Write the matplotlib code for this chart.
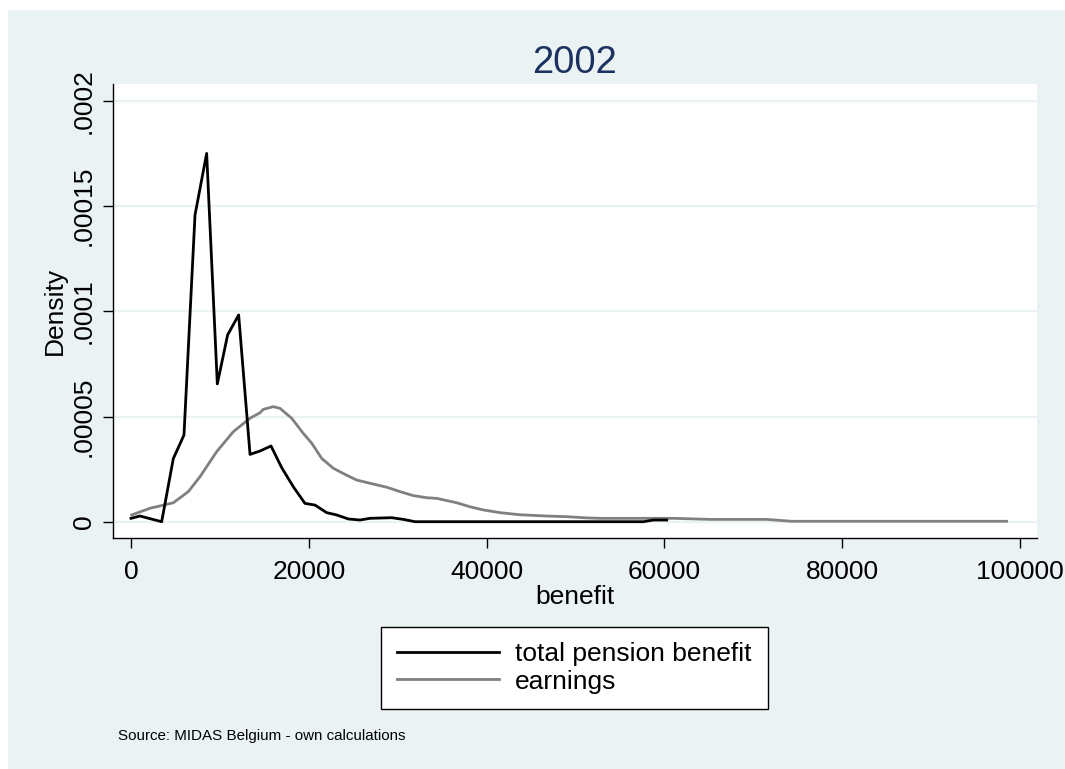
import matplotlib
matplotlib.use("Agg")
import matplotlib.pyplot as plt
from matplotlib.patches import Rectangle

# ---- data ----
pension_x = [0, 1000, 3450, 4760, 5960, 7200, 8510, 9710, 10870, 12110, 13390,
             14510, 15750, 16950, 18260, 19570, 20700, 22010, 23140, 24440,
             25760, 26880, 29330, 30630, 31950, 40000, 50000, 57630, 58750, 60260]
pension_y = [1.6e-6, 2.7e-6, 0.0, 3.0e-5, 4.12e-5, 1.458e-4, 1.751e-4, 6.55e-5,
             8.88e-5, 9.83e-5, 3.2e-5, 3.36e-5, 3.6e-5, 2.57e-5, 1.66e-5, 8.7e-6,
             7.9e-6, 4.3e-6, 3.2e-6, 1.3e-6, 0.8e-6, 1.6e-6, 1.9e-6, 1.1e-6, 0.0,
             0.0, 0.0, 0.0, 0.8e-6, 0.8e-6]

earn_x = [80, 2140, 3260, 4760, 6450, 7760, 9640, 11510, 13390, 14510, 14880,
          16010, 16760, 18070, 19380, 20330, 21450, 22760, 24070, 25390, 27260,
          28760, 30260, 31760, 33260, 34390, 36640, 38130, 39630, 41510, 43760,
          46760, 49010, 51260, 52760, 56500, 61000, 65130, 71500, 74300, 98500]
earn_y = [3.2e-6, 6.4e-6, 7.5e-6, 9.0e-6, 1.43e-5, 2.14e-5, 3.33e-5, 4.28e-5,
          4.92e-5, 5.18e-5, 5.34e-5, 5.47e-5, 5.39e-5, 4.92e-5, 4.2e-5, 3.73e-5,
          3.01e-5, 2.54e-5, 2.25e-5, 1.98e-5, 1.79e-5, 1.64e-5, 1.43e-5, 1.24e-5,
          1.14e-5, 1.11e-5, 9.0e-6, 7.1e-6, 5.6e-6, 4.3e-6, 3.3e-6, 2.7e-6, 2.4e-6,
          1.8e-6, 1.6e-6, 1.6e-6, 1.6e-6, 1.1e-6, 1.1e-6, 0.2e-6, 0.2e-6]

x_ticks = [0, 20000, 40000, 60000, 80000, 100000]
x_tick_labels = ["0", "20000", "40000", "60000", "80000", "100000"]
y_ticks = [0, 0.00005, 0.0001, 0.00015, 0.0002]
y_tick_labels = ["0", ".00005", ".0001", ".00015", ".0002"]

title = "2002"
x_label = "benefit"
y_label = "Density"
series_labels = ["total pension benefit", "earnings"]
note = "Source: MIDAS Belgium - own calculations"

# ---- style ----
plt.rcParams['font.family'] = ['Liberation Sans', 'DejaVu Sans']
BG = "#eaf2f3"
W, H = 1065, 769
FS = 19

fig = plt.figure(figsize=(W / 100, H / 100), dpi=100, facecolor="white")
fig.patches.append(Rectangle((8 / W, 0), 1 - 8 / W, 1 - 10 / H,
                             transform=fig.transFigure, facecolor=BG,
                             edgecolor="none", zorder=-10))

left, right, top, bottom = 112.7, 1037, 84, 538
ax = fig.add_axes([left / W, 1 - bottom / H, (right - left) / W, (bottom - top) / H])
ax.set_facecolor("white")

ax.plot(pension_x, pension_y, color="black", lw=2.0, label=series_labels[0], zorder=3)
ax.plot(earn_x, earn_y, color="#808080", lw=2.0, label=series_labels[1], zorder=2)

ax.set_xlim(-2058, 101912)
ax.set_ylim(-7.75e-6, 0.0002081)

ax.set_xticks(x_ticks)
ax.set_xticklabels(x_tick_labels, va="baseline")
ax.set_yticks(y_ticks)
ax.set_yticklabels(y_tick_labels, rotation=90, rotation_mode="anchor",
                   ha="center", va="baseline")

ax.tick_params(axis="both", direction="out", length=7.5, width=1.0, labelsize=FS,
               colors="black")
ax.tick_params(axis="x", pad=21.8)
ax.tick_params(axis="y", pad=8.2)

ax.grid(axis="y", color=BG, lw=1.6, zorder=0)
ax.set_axisbelow(True)

for s in ["top", "right"]:
    ax.spines[s].set_visible(False)
for s in ["left", "bottom"]:
    ax.spines[s].set_color("black")
    ax.spines[s].set_linewidth(1.0)

# axis titles
fig.text(575 / W, 1 - 604 / H, x_label, fontsize=FS, ha="center", va="baseline")
fig.text(62 / W, 1 - 311 / H, y_label, fontsize=FS, rotation=90,
         rotation_mode="anchor", ha="center", va="baseline")

fig.text(574 / W, 1 - 72.7 / H, title, fontsize=27.5, color="#1c3160",
         ha="center", va="baseline")

leg = ax.legend(loc="center", bbox_to_anchor=(574.5 / W, 1 - 668 / H),
                bbox_transform=fig.transFigure, fontsize=FS, frameon=True,
                fancybox=False, edgecolor="black", framealpha=1,
                handlelength=3.87, handletextpad=0.6, borderpad=0.6,
                labelspacing=0.12, borderaxespad=0)
leg.get_frame().set_linewidth(1.0)
for line in leg.get_lines():
    line.set_linewidth(2.0)

fig.text(118 / W, 1 - 740 / H, note, fontsize=10.9, ha="left", va="baseline")

fig.savefig("out.png", dpi=100, facecolor=fig.get_facecolor())
